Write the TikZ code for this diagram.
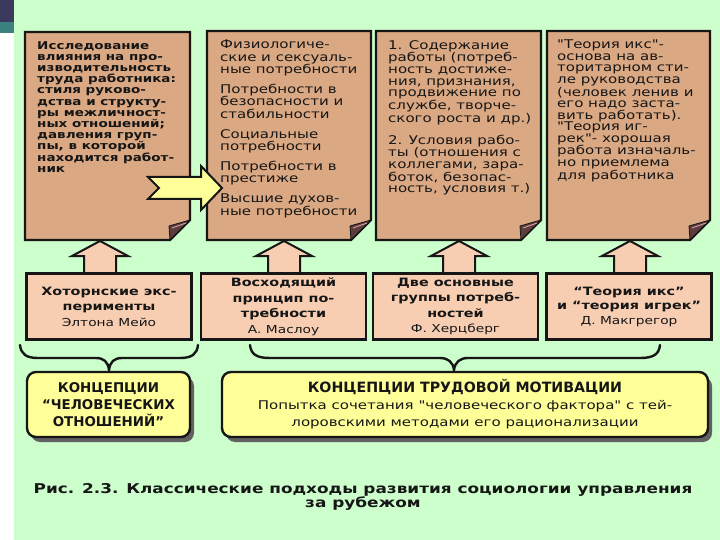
\documentclass[tikz,border=0pt]{standalone}
\usepackage{fontspec}
\setmainfont{DejaVu Sans}
\newfontfamily\widefont[FakeStretch=1.25]{DejaVu Sans}
\definecolor{bgreen}{RGB}{204,255,204}
\definecolor{sheetc}{RGB}{218,168,130}
\definecolor{peach}{RGB}{248,206,178}
\definecolor{yel}{RGB}{255,255,153}
\definecolor{foldc}{RGB}{92,60,60}
\definecolor{foldhi}{RGB}{214,160,160}
\definecolor{ink}{RGB}{22,22,22}
\definecolor{slate}{RGB}{60,58,92}
\definecolor{tealband}{RGB}{60,128,128}
\tikzset{
 sheet/.style={draw=ink, line width=2.2pt, fill=sheetc, line join=miter},
 fold/.style={fill=foldc, draw=ink, line width=0.8pt, line join=round},
 stxt/.style={anchor=north west, inner sep=0pt, align=left, text=ink},
 midbox/.style={draw=ink, line width=2.2pt, fill=peach, minimum width=165pt, minimum height=66pt, align=center, inner sep=0pt, text=ink},
 uparrow/.style={draw=ink, line width=2pt, fill=peach, line join=miter},
 brace/.style={draw=ink, line width=2.4pt, line cap=round},
 ybox/.style={draw=ink, line width=2.4pt, fill=yel, rounded corners=9pt, align=center, inner sep=0pt, text=ink},
 yshadow/.style={fill=black!62, rounded corners=9pt},
 rarrow/.style={draw=ink, line width=2pt, fill=yel, line join=miter},
}
\newcommand{\papersheet}[4]{%
 \draw[sheet] (#1,#2) -- (#3,#2) -- (#3,#4-20) -- (#3-20,#4) -- (#1,#4) -- cycle;
 \filldraw[fold] (#3,#4-20) -- (#3-20,#4) -- (#3-21,#4-14) -- cycle;
 \draw[foldhi, line width=0.9pt] (#3-4,#4-17) -- (#3-18,#4-12);
}
\newcommand{\uparr}[1]{%
 \draw[uparrow] (#1-16,274) -- (#1-16,256) -- (#1-28,256) -- (#1,241) -- (#1+28,256) -- (#1+16,256) -- (#1+16,274) -- cycle;
}
\begin{document}
\begin{tikzpicture}[x=1pt,y=-1pt]
\useasboundingbox (0,0) rectangle (720,540);
\fill[white] (0,0) rectangle (720,540);
\fill[bgreen] (14,0) rectangle (720,540);
\fill[slate] (0,0) rectangle (14,22);
\fill[tealband] (0,22) rectangle (14,33);

% sheets
\papersheet{25}{32}{190}{240}
\papersheet{207}{31}{371}{240}
\papersheet{376}{31}{541}{240}
\papersheet{547}{31}{710}{240}

\node[stxt, font=\widefont\bfseries\fontsize{10.8}{11.2}\selectfont] (t1) at (37,41)
 {Исследование\\влияния на про-\\изводительность\\труда работника:\\стиля руково-\\дства и структу-\\ры межличност-\\ных отношений;\\давления груп-\\пы, в которой\\находится работ-\\ник};

\node[stxt, font=\widefont\fontsize{12}{12.3}\selectfont] (t2) at (220,40)
 {Физиологиче-\\ские и сексуаль-\\ные потребности\\[7.7pt]Потребности в\\безопасности и\\стабильности\\[7.7pt]Социальные\\потребности\\[7.7pt]Потребности в\\престиже\\[7.7pt]Высшие духов-\\ные потребности};

\node[stxt, font=\widefont\fontsize{12}{11.6}\selectfont] (t3) at (388,40)
 {1. Содержание\\работы (потреб-\\ность достиже-\\ния, признания,\\продвижение по\\службе, творче-\\ского роста и др.)\\[9.4pt]2. Условия рабо-\\ты (отношения с\\коллегами, зара-\\боток, безопас-\\ность, условия т.)};

\node[stxt, font=\widefont\fontsize{12}{11.5}\selectfont] (t4) at (557,40)
 {"Теория икс"-\\основа на ав-\\торитарном сти-\\ле руководства\\(человек ленив и\\его надо заста-\\вить работать).\\"Теория иг-\\рек"- хорошая\\работа изначаль-\\но приемлема\\для работника};

% right arrow between sheets
\draw[rarrow] (148,177) -- (201,177) -- (201,166) -- (222,188) -- (201,210) -- (201,199) -- (148,199) -- (159,188) -- cycle;

% up arrows
\uparr{100}
\uparr{284}
\uparr{459}
\uparr{630}

% middle boxes
\node[midbox, font=\widefont\fontsize{11.5}{15.5}\selectfont] (m1) at (109,306.5)
 {\bfseries Хоторнские экс-\\\bfseries перименты\\\mdseries\fontsize{11}{15.5}\selectfont Элтона Мейо};
\node[midbox, font=\widefont\fontsize{11.5}{15.5}\selectfont] (m2) at (283.5,306.5)
 {\bfseries Восходящий\\\bfseries принцип по-\\\bfseries требности\\\mdseries\fontsize{11}{15.5}\selectfont А. Маслоу};
\node[midbox, font=\widefont\fontsize{11.5}{15.5}\selectfont] (m3) at (455.5,306.5)
 {\bfseries Две основные\\\bfseries группы потреб-\\\bfseries ностей\\\mdseries\fontsize{11}{15.5}\selectfont Ф. Херцберг};
\node[midbox, font=\widefont\fontsize{11.5}{14.5}\selectfont] (m4) at (629,306.5)
 {\bfseries “Теория икс”\\\bfseries и “теория игрек”\\\mdseries\fontsize{11}{15}\selectfont Д. Макгрегор};

% braces
\draw[brace] (20,345) .. controls (21,354) and (26,358) .. (38,358) -- (96,358) .. controls (104,358) and (108,362) .. (109,370) .. controls (110,362) and (114,358) .. (122,358) -- (180,358) .. controls (192,358) and (197,354) .. (198,345);
\draw[brace] (250,345) .. controls (251,354) and (256,358) .. (270,358) -- (440,358) .. controls (448,358) and (453,362) .. (454,370) .. controls (455,362) and (460,358) .. (468,358) -- (640,358) .. controls (654,358) and (659,354) .. (660,345);

% bottom boxes
\fill[yshadow] (31,377) rectangle (194,442);
\fill[yshadow] (226,377) rectangle (712,442);
\node[ybox, minimum width=163pt, minimum height=65pt, font=\bfseries\fontsize{13.4}{17}\selectfont] (c1) at (108.5,404.5)
 {КОНЦЕПЦИИ\\“ЧЕЛОВЕЧЕСКИХ\\ОТНОШЕНИЙ”};
\node[ybox, minimum width=486pt, minimum height=65pt, font=\bfseries\fontsize{14.2}{17}\selectfont] (c2) at (465,404.5)
 {КОНЦЕПЦИИ ТРУДОВОЙ МОТИВАЦИИ\\\widefont\mdseries\fontsize{12}{16}\selectfont Попытка сочетания "человеческого фактора" с тей-\\\widefont\mdseries\fontsize{12}{16}\selectfont лоровскими методами его рационализации};

% caption
\node[font=\widefont\bfseries\fontsize{13.5}{11.5}\selectfont, align=center, text=ink, inner sep=0pt] (cap) at (363,497)
 {Рис. 2.3. Классические подходы развития социологии управления\\за рубежом};
\end{tikzpicture}
\end{document}
